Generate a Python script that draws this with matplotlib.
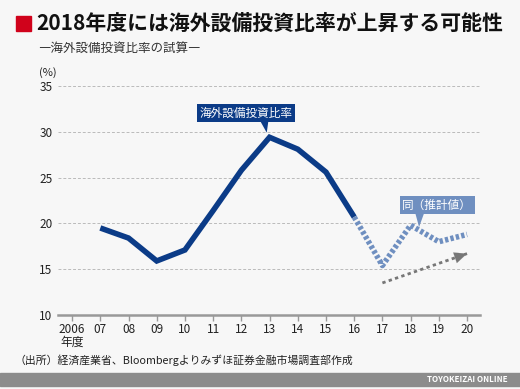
import matplotlib
matplotlib.use("Agg")
import matplotlib.pyplot as plt
from matplotlib.patches import Rectangle

plt.rcParams['font.family'] = ['Noto Sans CJK JP', 'DejaVu Sans']

# data (fiscal years)
years_actual = [2007, 2008, 2009, 2010, 2011, 2012, 2013, 2014, 2015, 2016]
ratio_actual = [19.5, 18.4, 15.9, 17.1, 21.4, 25.8, 29.4, 28.1, 25.6, 20.7]
years_est = [2016, 2017, 2018, 2019, 2020]
ratio_est = [20.7, 15.4, 19.8, 18.0, 18.8]
trend_x = [2017, 2020]
trend_y = [13.5, 16.7]
xticks = list(range(2006, 2021))
xlabels = ["2006\n年度"] + ["%02d" % (y % 100) for y in xticks[1:]]
yticks = [10, 15, 20, 25, 30, 35]

W, H = 520, 389
bg = "#f7f7f7"
dark = "#0b3b87"
light = "#6f8fc0"

fig = plt.figure(figsize=(W / 100, H / 100), dpi=100, facecolor=bg)

def px(x, y):
    return x / W, 1 - y / H

# title
fig.patches.append(Rectangle(px(16, 31), 15 / W, 15 / H, transform=fig.transFigure,
                             color="#d0021b"))
fig.text(*px(36, 23), "2018年度には海外設備投資比率が上昇する可能性", fontsize=15,
         fontweight="bold", va="center", ha="left", color="#111")
fig.text(*px(38, 48), "―海外設備投資比率の試算―", fontsize=9, va="center",
         ha="left", color="#333")

l, r, t, b = 58, 480, 86, 315
ax = fig.add_axes([l / W, 1 - b / H, (r - l) / W, (b - t) / H])
ax.set_facecolor(bg)

ax.plot(years_actual, ratio_actual, color=dark, lw=4, solid_joinstyle="miter",
        solid_capstyle="butt", zorder=3)
ax.plot(years_est, ratio_est, color=light, lw=4, dashes=(0.6, 0.4),
        dash_capstyle="butt", zorder=3)

# trend arrow: dotted shaft + head
ax.plot(trend_x, trend_y, color="#777", lw=2, dashes=(1.2, 1.2),
        dash_capstyle="butt", zorder=3)
ax.annotate("", xy=(trend_x[1], trend_y[1]),
            xytext=(trend_x[1] - 0.3, trend_y[1] - 0.32),
            arrowprops=dict(arrowstyle="-|>,head_length=0.9,head_width=0.4",
                            color="#777", lw=0.1, shrinkA=0, shrinkB=0))

ax.set_xlim(2005.5, 2020.46)
ax.set_ylim(10, 35)
ax.set_yticks(yticks)
ax.set_xticks(xticks)
ax.set_xticklabels(xlabels)
for s in ["top", "right", "left"]:
    ax.spines[s].set_visible(False)
ax.spines["bottom"].set_color("#999")
ax.spines["bottom"].set_linewidth(1.8)
ax.grid(axis="y", color="#bbb", ls=(0, (3, 2)), lw=0.7)
ax.tick_params(axis="y", length=0, labelsize=8.5, pad=4, labelcolor="#222")
ax.tick_params(axis="x", length=4, color="#999", width=1, labelsize=8.5,
               pad=2, labelcolor="#222")
for lab in ax.get_xticklabels():
    lab.set_linespacing(0.95)
    lab.set_va("top")

fig.text(*px(39, 73), "(%)", fontsize=8, va="center", ha="left", color="#222")

# callouts
ax.text(2012.16, 32.05, "海外設備投資比率", fontsize=8.4, color="white",
        ha="center", va="center", zorder=5,
        bbox=dict(boxstyle="square,pad=0.22", fc=dark, ec="none"))
ax.fill([2012.62, 2012.97, 2012.9], [31.45, 31.45, 29.9], color=dark,
        zorder=4, lw=0)
ax.text(2018.94, 22.0, "同（推計値）", fontsize=8.4, color="white",
        ha="center", va="center", zorder=5,
        bbox=dict(boxstyle="square,pad=0.22", fc=light, ec="none"))
ax.fill([2018.15, 2018.5, 2018.3], [21.3, 21.3, 19.6], color=light,
        zorder=4, lw=0)

fig.text(*px(14, 360), "（出所）経済産業省、Bloombergよりみずほ証券金融市場調査部作成",
         fontsize=7.8, va="center", ha="left", color="#222")

# footer
fig.patches.append(Rectangle(px(0, 386), 1, 13 / H, transform=fig.transFigure,
                             color="#8c8c8c"))
fig.text(*px(508, 379.5), "TOYOKEIZAI ONLINE", fontsize=5.8, va="center",
         ha="right", color="white", fontweight="bold")

fig.savefig("out.png", dpi=100, facecolor=bg)
